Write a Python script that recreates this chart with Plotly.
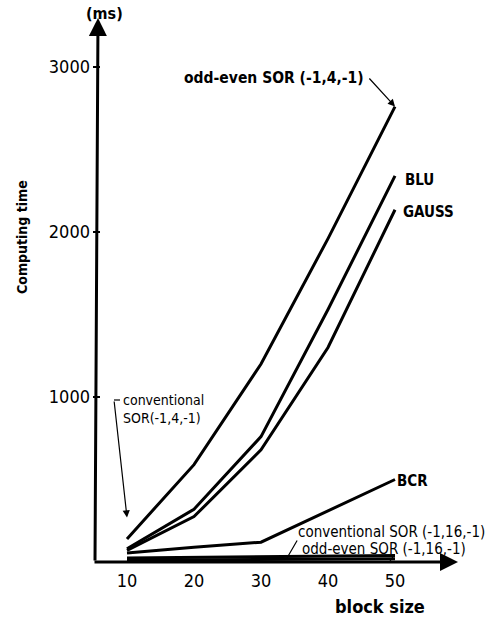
import plotly.graph_objects as go

block_size = [10, 20, 30, 40, 50]
odd_even_sor_4 = [140, 590, 1200, 1960, 2760]
blu = [80, 320, 760, 1530, 2340]
gauss = [70, 275, 680, 1300, 2135]
bcr = [55, 90, 120, 310, 500]
conv_sor_16 = [25, 28, 32, 36, 40]
odd_even_sor_16 = [10, 12, 15, 18, 20]
conv_sor_4_point = (10, 270)

x_ticks = [10, 20, 30, 40, 50]
y_ticks = [1000, 2000, 3000]

W, H = 495, 620
ML, MR, MT, MB = 93, 40, 20, 58
PW, PH = W - ML - MR, H - MT - MB
PX10, PXPER = 127, 6.7      # pixel of x=10, pixels per unit
PY0, PYPER = 562, 0.165     # pixel of y=0, pixels per unit

def dx(px):
    return 10 + (px - PX10) / PXPER

def dy(py):
    return (PY0 - py) / PYPER

def px_(px):
    return (px - ML) / PW

def py_(py):
    return (PY0 - py) / PH

FONT = "Liberation Sans Narrow, DejaVu Sans Condensed, Liberation Sans, Arial"

def f(size):
    return dict(family=FONT, size=size, color="black")

fig = go.Figure()
series = [odd_even_sor_4, blu, gauss, bcr, conv_sor_16, odd_even_sor_16]
names = ["odd-even SOR (-1,4,-1)", "BLU", "GAUSS", "BCR",
         "conventional SOR (-1,16,-1)", "odd-even SOR (-1,16,-1)"]
for s, n in zip(series, names):
    fig.add_trace(go.Scatter(x=block_size, y=s, mode="lines", name=n,
                             line=dict(color="black", width=3), cliponaxis=False,
                             showlegend=False))

xr = [dx(ML), dx(ML + PW)]
yr = [0, dy(MT)]

fig.update_layout(
    width=W, height=H, margin=dict(l=ML, r=MR, t=MT, b=MB),
    plot_bgcolor="white", paper_bgcolor="white", showlegend=False,
    xaxis=dict(range=xr, tickvals=x_ticks, ticktext=[str(v) for v in x_ticks],
               showgrid=False, zeroline=False, showline=False, ticks="",
               tickfont=f(18), ticklabelstandoff=6),
    yaxis=dict(range=yr, tickvals=y_ticks, ticktext=[str(v) for v in y_ticks],
               showgrid=False, zeroline=False, showline=False, ticks="inside",
               ticklen=7, tickwidth=2, tickcolor="black",
               tickfont=f(18), ticklabelstandoff=2),
)

ann = []
# axes with arrowheads
ann.append(dict(x=dx(458), y=0, ax=dx(ML), ay=0, xref="x", yref="y", axref="x", ayref="y",
                text="", showarrow=True, arrowhead=2, arrowsize=1.2, arrowwidth=3,
                arrowcolor="black"))
ann.append(dict(x=dx(98), y=dy(18), ax=dx(95), ay=0, xref="x", yref="y", axref="x", ayref="y",
                text="", showarrow=True, arrowhead=2, arrowsize=1.2, arrowwidth=3,
                arrowcolor="black"))
# axis texts
ann.append(dict(x=px_(104), y=py_(14), xref="paper", yref="paper", text="<b>(ms)</b>",
                xanchor="center", yanchor="middle", showarrow=False, font=f(16)))
ann.append(dict(x=px_(380), y=py_(606), xref="paper", yref="paper", text="<b>block size</b>",
                xanchor="center", yanchor="middle", showarrow=False, font=f(18)))
ann.append(dict(x=px_(22), y=py_(237), xref="paper", yref="paper", text="<b>Computing time</b>",
                xanchor="center", yanchor="middle", textangle=-90, showarrow=False, font=f(14)))
# series labels
ann.append(dict(x=dx(274), y=dy(78), text="<b>odd-even SOR (-1,4,-1)</b>", xanchor="center",
                showarrow=False, font=f(15.5)))
ann.append(dict(x=block_size[-1], y=odd_even_sor_4[-1], ax=dx(368), ay=dy(77), axref="x", ayref="y",
                text="", showarrow=True, arrowhead=2, arrowsize=1.2, arrowwidth=1.2,
                arrowcolor="black"))
ann.append(dict(x=dx(403), y=dy(180), text="<b>BLU</b>", xanchor="left", showarrow=False, font=f(15)))
ann.append(dict(x=dx(401), y=dy(212), text="<b>GAUSS</b>", xanchor="left", showarrow=False, font=f(15)))
ann.append(dict(x=dx(395), y=dy(481), text="<b>BCR</b>", xanchor="left", showarrow=False, font=f(15)))
ann.append(dict(x=dx(121), y=dy(409), text="conventional<br>SOR(-1,4,-1)", xanchor="left",
                align="left", showarrow=False, font=f(14)))
ann.append(dict(x=conv_sor_4_point[0], y=conv_sor_4_point[1], ax=dx(114), ay=dy(400),
                axref="x", ayref="y", text="", showarrow=True, arrowhead=2, arrowsize=1.2,
                arrowwidth=1.2, arrowcolor="black"))
ann.append(dict(x=dx(296), y=dy(532), text="conventional SOR (-1,16,-1)", xanchor="left",
                showarrow=False, font=f(15)))
ann.append(dict(x=dx(300), y=dy(549), text="odd-even SOR (-1,16,-1)", xanchor="left",
                showarrow=False, font=f(15)))
ann.append(dict(x=dx(287), y=dy(558), ax=dx(298), ay=dy(539), axref="x", ayref="y",
                text="", showarrow=True, arrowhead=0, arrowwidth=1.2, arrowcolor="black"))
ann.append(dict(x=dx(390), y=dy(561), ax=dx(395), ay=dy(554), axref="x", ayref="y",
                text="", showarrow=True, arrowhead=0, arrowwidth=1.2, arrowcolor="black"))
fig.update_layout(annotations=ann)

fig.add_shape(type="line", xref="x", yref="y", x0=dx(114), y0=dy(400), x1=dx(120), y1=dy(400),
              line=dict(color="black", width=1.2))

fig.write_html("out.html")
